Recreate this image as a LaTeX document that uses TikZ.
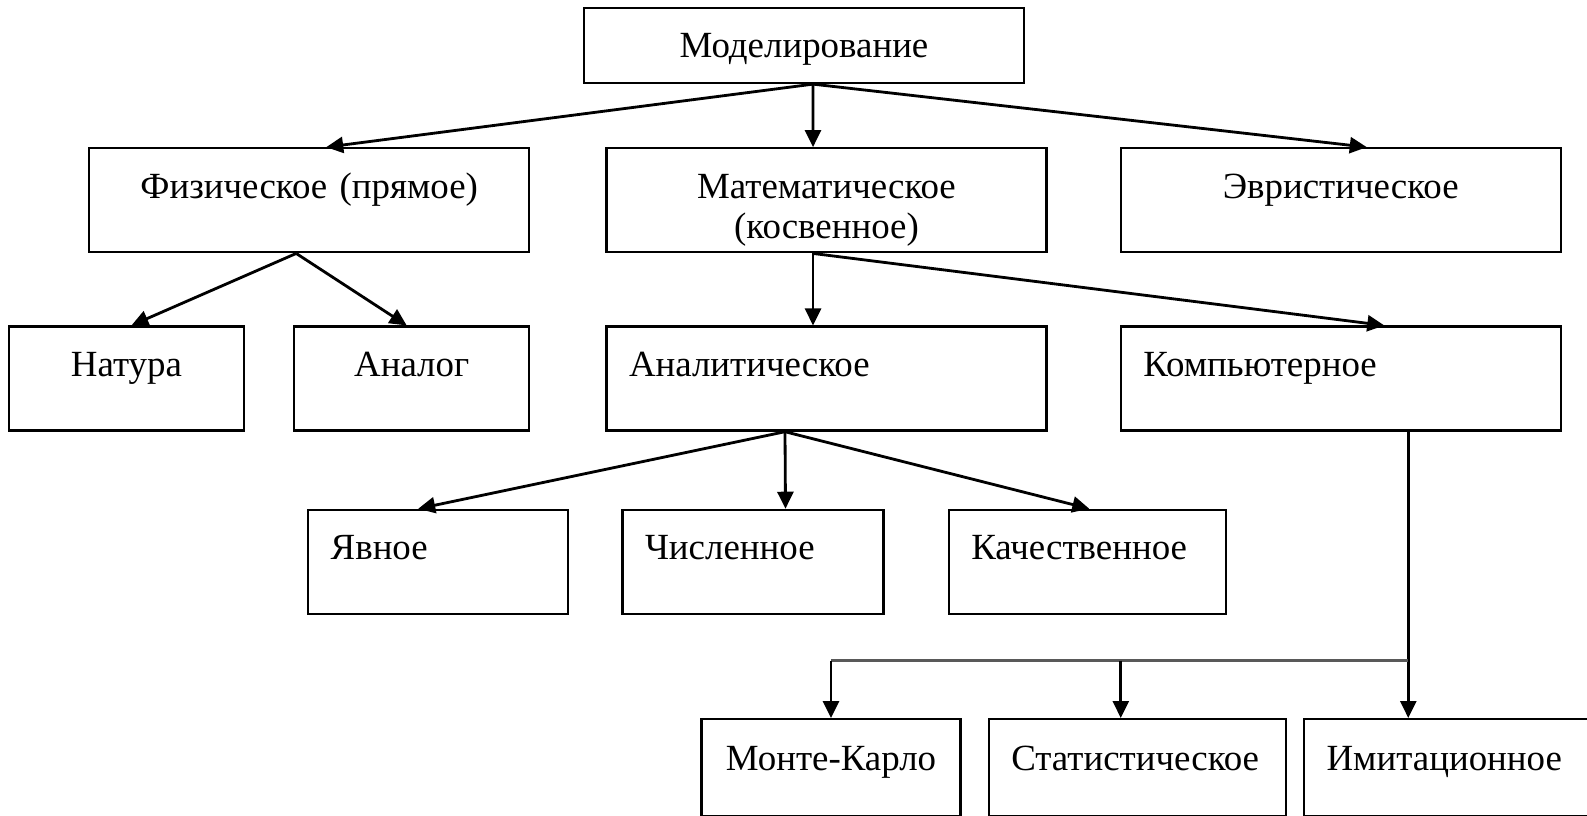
\documentclass[tikz,border=0pt]{standalone}
\usepackage{fontspec}
\setmainfont{Liberation Serif}
\usetikzlibrary{arrows.meta,positioning,calc}

\begin{document}
\begin{tikzpicture}[node distance = 1cm, auto]

\tikzstyle{box} = [rectangle, draw, line width = 1.3pt, inner xsep = 0.45cm, inner ysep = 0pt, text height = 1cm, text depth = 1.08cm, font = \fontsize{21pt}{22.7pt}\selectfont]

\tikzstyle{topblock} = [box, text width = 7.9cm, align = center, text height = 0.98cm, text depth = 0.52cm]

\tikzstyle{wideblock} = [box, text width = 7.9cm, align = center]

\tikzstyle{wideleft} = [box, text width = 7.9cm, align = left]

\tikzstyle{smallblock} = [box, text width = 3.8cm, align = center]

\tikzstyle{lowblock} = [box, text height = 1.02cm, text depth = 0.92cm]

\tikzstyle{arr} = [-{Triangle[length=0.34cm, width=0.32cm]}, line width = 1.6pt]

\tikzstyle{bus} = [line width = 1.5pt, draw = black!65]

\useasboundingbox (0,0) rectangle (31.74,-16.3);

\node [topblock] (model) at (16.08,-0.91) {Моделирование};

% level 1
\node [wideblock, below = 1.26cm of model, xshift = 0.45cm] (math) {Математическое\\(косвенное)};
\node [wideblock, left = 1.5cm of math] (phys) {Физическое (прямое)};
\node [wideblock, right = 1.44cm of math] (heur) {Эвристическое};

% level 2
\node [wideleft, below = 1.44cm of math] (analyt) {Аналитическое};
\node [wideleft, below = 1.44cm of heur] (comp) {Компьютерное};
\node [smallblock, below = 1.44cm of phys.south east, anchor = north east] (analog) {Аналог};
\node [smallblock, left = 0.96cm of analog] (natura) {Натура};

% level 3
\node [box, text width = 4.3cm, align = left, below left = 1.54cm and 0.72cm of analyt] (explicit) {Явное};
\node [box, text width = 4.32cm, align = left, right = 1.04cm of explicit] (numeric) {Численное};
\node [box, text width = 4.64cm, align = left, right = 1.26cm of numeric] (qual) {Качественное};

% level 4
\node [lowblock, text width = 4.28cm, align = center, below = 2.06cm of numeric, xshift = 1.56cm] (monte) {Монте-Карло};
\node [lowblock, text width = 5.04cm, align = left, right = 0.52cm of monte] (stat) {Статистическое};
\node [lowblock, text width = 4.82cm, align = left, right = 0.32cm of stat] (imit) {Имитационное};

\path[arr] ([xshift = 0.18cm]model.south) edge ([xshift = 0.34cm]phys.north);
\path[arr] ([xshift = 0.18cm]model.south) edge ([xshift = -0.27cm]math.north);
\path[arr] ([xshift = 0.18cm]model.south) edge ([xshift = 0.52cm]heur.north);

\path[arr] ([xshift = -0.26cm]phys.south) edge ([xshift = 0.1cm]natura.north);
\path[arr] ([xshift = -0.26cm]phys.south) edge ([xshift = -0.1cm]analog.north);

\path[arr] ([xshift = -0.27cm]math.south) edge ([xshift = -0.27cm]analyt.north);
\path[arr] ([xshift = -0.27cm]math.south) edge ([xshift = 0.87cm]comp.north);

\path[arr] ([xshift = -0.83cm]analyt.south) edge ([xshift = -0.4cm]explicit.north);
\path[arr] ([xshift = -0.83cm]analyt.south) edge ([xshift = 0.65cm]numeric.north);
\path[arr] ([xshift = -0.83cm]analyt.south) edge ([xshift = 0.04cm]qual.north);

% computer branch
\coordinate (comp_out) at ([xshift = 1.35cm]comp.south);
\coordinate (bus_r) at ([yshift = -4.58cm]comp_out);
\coordinate (bus_l) at (bus_r -| monte.north);
\coordinate (stat_in) at ([xshift = -0.33cm]stat.north);

\path[arr] (comp_out) edge (comp_out |- imit.north);
\draw[bus] (bus_l) -- (bus_r);
\path[arr] (bus_l) edge (monte.north);
\path[arr] (bus_l -| stat_in) edge (stat_in);

\end{tikzpicture}
\end{document}
